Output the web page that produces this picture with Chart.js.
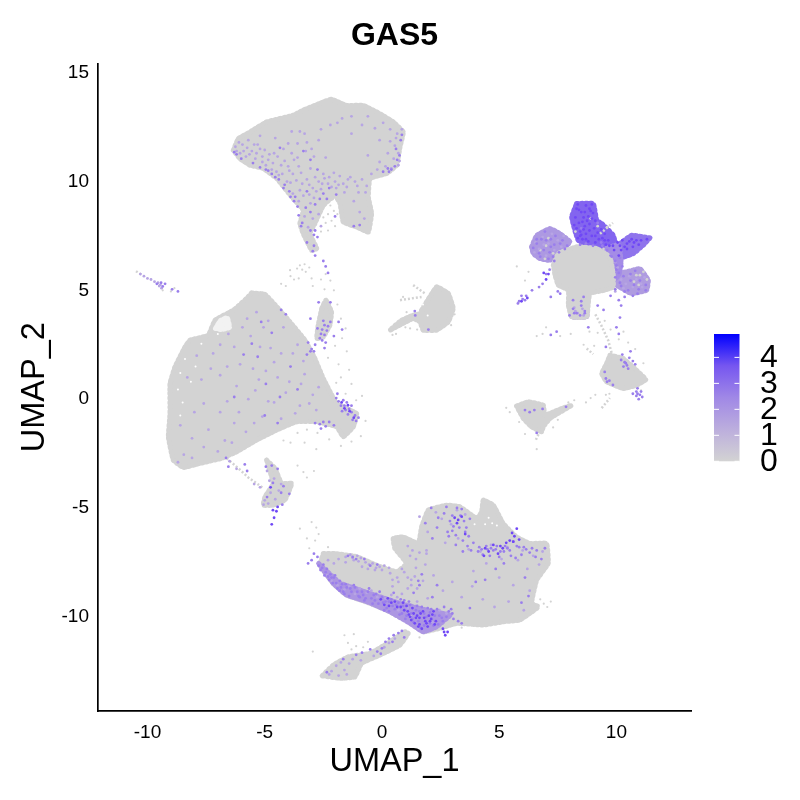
<!DOCTYPE html>
<html>
<head>
<meta charset="utf-8">
<title>GAS5</title>
<script src="https://cdn.jsdelivr.net/npm/chart.js@4/dist/chart.umd.min.js"></script>
<style>
  html, body { margin: 0; background: #fff; }
  canvas { display: block; }
</style>
</head>
<body>
<canvas id="umap" width="800" height="800"></canvas>
<script>
const xTicks = [-10, -5, 0, 5, 10];
const yTicks = [-10, -5, 0, 5, 10, 15];
const legendTicks = [0, 1, 2, 3, 4];
const legendMax = 4.9;

// cluster outlines in UMAP units
const topCluster = [[-6.34,11.44],[-6.13,11.97],[-5.63,12.28],[-4.92,12.74],[-3.78,13.05],[-3.36,13.28],[-2.5,13.66],[-2.15,13.78],[-1.51,13.5],[-0.8,13.5],[-0.09,13.12],[0.48,12.74],[0.91,12.28],[0.77,11.59],[0.63,10.75],[0.2,10.37],[-0.51,10.14],[-0.58,9.29],[-0.44,8.53],[-0.58,7.68],[-1.08,7.91],[-1.65,8.14],[-1.79,8.99],[-2.0,9.35],[-2.5,8.9],[-2.86,8.07],[-3.07,7.61],[-2.78,6.92],[-3.0,6.84],[-3.36,7.61],[-3.5,8.07],[-3.36,8.68],[-3.85,9.29],[-4.49,10.14],[-5.06,10.6],[-5.63,10.75],[-6.06,11.06]];
const leftCluster = [[-5.56,4.88],[-4.99,4.82],[-4.42,4.17],[-3.92,3.55],[-3.28,2.71],[-2.86,1.87],[-2.5,0.95],[-1.93,-0.2],[-1.08,-0.66],[-1.22,-1.27],[-1.65,-1.73],[-1.93,-1.27],[-2.78,-1.04],[-3.64,-1.04],[-4.49,-1.42],[-5.34,-1.88],[-6.2,-2.42],[-6.84,-2.72],[-7.76,-2.95],[-8.47,-3.14],[-8.9,-2.8],[-9.11,-1.73],[-9.04,-0.66],[-9.04,0.72],[-8.83,1.48],[-8.4,2.4],[-8.19,2.71],[-7.41,2.94],[-7.12,3.63],[-6.34,4.09],[-5.77,4.63]];
const bottomCluster = [[-2.5,-7.09],[-2.0,-7.09],[-1.08,-7.24],[-0.23,-7.63],[0.63,-7.93],[1.05,-7.55],[0.55,-6.86],[0.48,-6.4],[0.91,-6.33],[1.55,-6.63],[1.69,-5.87],[1.97,-5.1],[2.76,-4.87],[3.33,-4.95],[4.04,-5.48],[4.25,-5.18],[4.32,-4.64],[4.75,-4.87],[5.17,-5.71],[5.74,-6.33],[6.31,-6.63],[7.02,-6.63],[7.09,-7.55],[6.6,-8.31],[6.38,-9.38],[6.67,-9.54],[6.31,-9.84],[5.88,-10.15],[5.17,-10.23],[4.32,-10.38],[3.19,-10.3],[2.47,-10.53],[1.76,-10.69],[1.19,-10.23],[0.34,-9.77],[-0.51,-9.38],[-1.51,-9.0],[-2.08,-8.47],[-2.64,-7.63]];
const tailCluster = [[-2.55,-12.71],[-2.08,-12.22],[-1.44,-11.84],[-0.51,-11.68],[0.34,-11.15],[0.98,-10.69],[1.12,-10.76],[0.77,-11.3],[-0.09,-11.76],[-0.87,-12.14],[-1.15,-12.76],[-1.79,-12.83]];
const starCore = [[7.31,6.16],[7.52,6.69],[8.3,7.0],[9.16,6.92],[9.72,6.54],[9.86,5.77],[9.86,5.16],[9.51,5.01],[8.87,4.86],[8.8,4.4],[8.73,3.78],[8.09,3.78],[7.95,4.32],[7.95,5.01],[7.52,5.24],[7.38,5.7]];
const rightBlob = [[9.72,2.02],[10.29,1.87],[10.86,1.33],[11.25,0.9],[10.86,0.64],[10.29,0.49],[9.58,0.8],[9.37,1.18],[9.58,1.64]];
const lowBlob = [[5.74,-0.32],[6.24,-0.12],[6.88,-0.28],[6.95,-0.73],[7.66,-0.43],[8.09,-0.28],[7.16,-0.89],[6.88,-1.27],[6.81,-1.5],[6.38,-1.27],[6.03,-0.89]];
const midBlob = [[1.69,4.09],[2.33,5.16],[2.83,4.86],[3.04,4.17],[2.83,3.55],[2.33,3.17],[1.76,3.17],[1.62,3.55],[1.33,3.71],[0.34,3.17],[0.84,3.63],[1.33,3.86],[1.69,3.94]];
const stubBlob = [[-2.57,4.17],[-2.39,4.55],[-2.15,4.01],[-2.22,3.4],[-2.5,2.86],[-2.78,2.79],[-2.72,3.4]];
const lowerPatch = [[-4.92,-2.8],[-4.56,-3.18],[-4.28,-3.87],[-3.85,-3.87],[-4.14,-4.64],[-4.64,-4.87],[-5.06,-4.87],[-4.99,-4.49],[-4.64,-3.87]];

const grayStreaks = [
  [[-6.62,-2.72],[-6.1,-3.2],[-5.7,-3.6],[-5.34,-3.87],[-5.05,-4.1]],
  [[9.37,-0.41],[9.72,0.05]],
  [[8.73,2.33],[9.01,2.07]],
  [[6.75,-1.45],[6.55,-1.9]],
  [[1.33,5.24],[1.83,4.86]],
  [[0.77,4.55],[1.69,4.7]],
  [[9.1,3.9],[9.35,3.4],[9.65,2.7],[9.8,2.1]],
  [[-10.49,5.88],[-10.25,5.72]],
  [[9.3,7.6],[9.85,8.1]]
];

// lobes of the star shaped cluster, mostly expressing
const starLeftLobe = [[6.38,7.0],[6.6,7.53],[7.16,7.84],[7.59,7.61],[8.02,7.23],[7.52,6.69],[7.16,6.38],[6.74,6.46],[6.45,6.69]];
const starTopLobe = [[8.3,8.99],[9.01,8.99],[9.16,8.22],[9.4,8.05],[9.85,7.55],[10.0,7.0],[9.16,6.92],[8.37,7.3],[8.09,8.37]];
const starArm = [[11.43,7.41],[10.65,7.53],[10.15,7.15],[9.86,6.69],[10.08,6.46],[10.72,6.69],[11.14,7.07]];
const starRightLobe = [[9.94,5.77],[10.43,5.85],[11.0,6.0],[11.36,5.47],[11.29,5.01],[10.65,4.85],[10.01,5.24]];
const starBridge = [[9.6,6.95],[10.1,7.1],[10.2,6.3],[10.1,5.7],[9.8,5.4],[9.75,6.5]];
const starStem = [[8.09,4.4],[8.75,4.4],[8.73,3.78],[8.09,3.78]];
const wingBand = [[-2.7,-7.55],[-2.3,-7.95],[-1.79,-8.45],[-0.51,-8.93],[0.77,-9.38],[2.19,-9.77],[2.9,-9.92],[2.33,-10.46],[1.76,-10.69],[1.19,-10.3],[0.34,-9.77],[-0.65,-9.3],[-1.51,-9.0],[-2.08,-8.47]];
const leftGap = [[-7.1,3.25],[-6.9,3.6],[-6.6,3.75],[-6.5,3.3],[-6.85,3.2]];

const strayGray = [[-3.92,5.93],[-3.62,6.0],[-3.5,6.15],[-3.3,6.2],[-3.4,5.95],[-3.25,5.85],[-3.1,6.05],[-3.0,5.55],[-3.55,5.55],[-3.75,5.5],[-3.9,5.65],[-4.1,5.2],[-4.3,5.3],[-2.95,5.2],[-2.6,5.5],[-2.45,5.05],[-2.2,5.45],[-2.05,5.0],[-2.4,5.75],[-1.9,4.35],[-1.75,3.7],[-1.55,3.25],[-1.7,2.8],[-2.0,2.45],[-2.3,1.9],[-1.85,1.6],[-1.5,2.2],[-1.4,1.35],[-1.75,1.0],[-1.95,0.75],[-1.3,0.7],[-1.55,0.25],[-0.85,0.15],[-1.1,-0.05],[-0.7,-1.0],[-0.9,-1.7],[-1.3,-1.95],[-1.75,-2.15],[-2.25,-1.85],[-2.75,-1.55],[-3.2,-1.4],[-3.6,-1.55],[-3.3,-2.0],[-2.8,-2.3],[-3.9,-2.0],[-4.2,-1.9],[-2.9,-3.3],[-3.2,-3.6],[-3.6,-3.05],[-3.35,-3.35],[-3.0,-5.65],[-2.8,-5.9],[-2.7,-6.2],[-3.2,-6.4],[-3.5,-5.95],[-3.1,-6.85],[-2.85,-6.5],[-2.3,-6.8],[-2.95,-11.6],[-1.6,-10.85],[-1.45,-11.2],[-1.2,-10.8],[-1.3,-11.5],[-1.1,-11.35],[-0.6,-11.15],[-0.8,-11.4],[1.25,-9.9],[1.6,-10.95],[3.4,-10.5],[6.9,-9.4],[7.2,-9.3],[7.05,-9.55],[6.75,-9.2],[0.6,3.0],[0.45,2.95],[1.0,3.3],[1.2,3.25],[1.5,3.2],[1.05,4.0],[1.15,3.65],[0.9,4.7],[3.1,3.9],[2.95,3.4],[5.75,6.1],[6.25,5.85],[6.1,5.45],[7.0,3.3],[6.6,2.9],[6.85,3.0],[8.05,3.0],[7.6,2.9],[8.85,3.1],[9.2,3.05],[9.5,3.6],[9.75,3.2],[10.1,2.75],[10.5,2.6],[10.3,3.1],[9.1,0.2],[8.9,0.05],[8.7,-0.15],[8.2,-0.05],[7.95,-0.15],[9.7,0.25],[9.55,0.2],[11.05,0.4],[11.15,1.65],[10.8,2.3],[9.05,2.45],[8.6,2.5],[5.3,-0.4],[5.45,-0.6],[7.3,-1.3],[7.5,-0.95],[6.6,-2.3],[6.1,-1.6],[5.85,-1.05],[-9.35,5.0],[-9.0,4.95],[-8.85,5.1],[-2.2,8.9],[-2.05,8.65],[-2.3,8.5],[-2.15,8.2],[-1.9,8.5],[-2.4,8.1],[-2.5,8.35],[-2.6,7.7],[-2.3,7.75],[-2.0,7.95]];

const lowTop = [[-6.25,11.6],[-6.05,11.3],[-5.95,11.7],[-5.8,11.15],[-5.7,11.9],[-5.55,11.4],[-5.4,11.05],[-5.3,11.7],[-5.2,12.1],[-5.1,10.9],[-5.0,11.45],[-4.85,11.0],[-4.7,10.55],[-4.6,11.3],[-4.55,12.0],[-4.4,10.3],[-4.3,10.75],[-4.2,11.5],[-4.05,10.0],[-3.95,10.5],[-3.85,12.3],[-3.75,11.0],[-3.6,11.75],[-3.5,9.6],[-3.45,10.4],[-3.3,12.2],[-3.25,11.4],[-3.1,9.85],[-3.05,10.6],[-2.9,9.25],[-2.85,10.2],[-2.7,11.9],[-2.6,9.65],[-2.5,10.35],[-2.4,11.1],[-2.3,9.9],[-2.2,12.6],[-2.05,10.4],[-1.95,9.7],[-1.8,10.25],[-1.7,12.9],[-1.6,9.5],[-1.45,10.1],[-1.3,13.0],[-1.2,9.1],[-1.05,9.8],[-0.95,8.6],[-0.85,12.6],[-0.75,8.3],[-0.7,9.5],[-0.6,13.0],[-0.45,10.35],[-0.3,12.45],[-0.2,10.55],[-0.1,11.9],[0.05,12.7],[0.15,10.7],[0.25,11.3],[0.35,12.4],[0.4,10.6],[0.5,11.05],[0.55,11.65],[0.65,12.2],[0.7,11.3],[0.75,10.95],[-3.15,7.9],[-3.3,8.4],[-3.05,9.0],[-2.95,8.3],[-2.7,8.5],[-2.6,7.95],[-3.55,9.1],[-3.8,9.45],
  [-6.2,11.4],[-6.1,11.8],[-5.9,11.4],[-5.75,11.55],[-5.65,11.25],[-5.45,11.7],[-5.35,11.3],[-5.2,11.5],[-5.1,11.15],[-4.95,10.75],[-4.8,11.25],[-4.65,10.85],[-4.5,10.45],[-4.45,11.15],[-4.25,10.35],[-4.15,10.95],[-4.0,10.7],[-3.9,9.95],[-3.8,10.35],[-3.65,10.05],[-3.55,10.7],[-3.4,9.9],[-3.35,9.35],[-3.2,10.1],[-3.1,9.4],[-2.95,9.7],[-2.8,9.55],[-2.7,10.0],[-2.55,9.9],[-2.45,10.15],[-2.25,10.2],[-2.15,9.75],[-2.0,10.0],[-1.85,9.85],[-1.65,9.9],[-1.5,9.75],[-1.35,10.2],[-1.15,10.0],[-1.0,9.5],[-0.85,10.1],[-0.65,9.8],[-3.2,11.8],[-3.6,11.1],[-3.85,11.3],[-4.0,11.75],[-3.0,11.5],[-2.9,11.15],[-3.5,12.3],[-2.6,12.4],[-1.9,12.7],[-1.3,12.2],[-0.6,11.2],[-0.1,10.9],[0.35,11.85],[0.6,12.0],[0.85,12.4],[0.7,10.75]];
const midTop = [[-6.3,11.35],[-6.2,11.25],[-6.0,11.05],[-5.5,10.85],[-4.85,10.5],[-4.55,10.2],[-4.4,10.1],[-4.15,9.85],[-3.9,9.3],[-3.75,9.1],[-3.6,8.85],[-3.55,8.45],[-3.45,7.95],[-3.05,7.75],[-2.9,7.55],[-2.75,7.45],[-2.95,6.8],[-2.85,6.6],[-3.2,9.55],[-2.5,9.45],[-2.35,9.2],[-1.95,9.4],[-3.35,11.4],[-3.05,11.0],[-2.75,10.55],[-4.35,11.55],[0.65,11.0],[0.55,10.7],[0.3,10.45],[0.8,11.9],[0.85,12.15],[-2.0,8.4],[-1.2,7.95],[-0.95,8.0],
  [-5.2,10.65],[-4.95,10.55],[-4.7,10.35],[-4.2,9.7],[-3.95,9.55],[-3.7,9.3],[-3.4,8.1],[-3.25,8.8],[-3.05,8.6],[-2.85,8.95],[-2.65,9.2],[-2.25,9.7],[-2.85,7.75],[-3.2,7.2],[-2.9,7.05],[0.75,11.2],[0.4,10.55],[0.6,11.5],[0.25,10.6],[0.05,10.45]];

const lowLeft = [[-7.9,2.0],[-7.7,0.9],[-7.2,2.1],[-6.9,1.1],[-6.6,-0.1],[-6.3,2.4],[-6.05,1.6],[-5.75,3.7],[-5.6,2.9],[-5.4,0.4],[-5.05,3.3],[-4.95,1.3],[-4.75,2.35],[-4.6,-0.15],[-4.45,1.0],[-4.2,3.3],[-3.95,0.8],[-3.8,2.1],[-3.5,-0.3],[-3.3,1.15],[-2.95,0.2],[-2.7,0.55],[-8.0,-0.6],[-7.4,-1.4],[-6.9,-0.6],[-6.3,-1.1],[-5.8,-1.5],[-5.1,-0.8],[-4.3,-0.9],[-8.45,-2.55],[-8.7,-2.9],[-8.1,-2.7],[-7.0,-2.4],[-6.4,-2.0],
  [-8.3,1.0],[-8.6,-1.2],[-8.1,-1.8],[-7.6,-0.2],[-7.3,1.4],[-6.9,2.5],[-6.6,1.5],[-6.2,0.6],[-6.1,-0.6],[-5.7,0.0],[-5.5,1.4],[-5.2,2.4],[-5.25,0.9],[-4.85,-0.1],[-4.6,1.7],[-4.3,2.1],[-4.1,0.3],[-3.7,-0.65],[-3.45,0.7],[-3.1,-0.2],[-2.8,-0.5],[-6.7,-1.9],[-7.6,-2.2],[-5.45,-1.1],[-5.95,3.3],[-6.55,3.0],[-5.35,4.0],[-4.85,3.6],[-3.6,2.5],[-3.35,1.75]];
const midLeft = [[-5.9,2.05],[-5.55,2.55],[-5.3,1.95],[-5.15,3.55],[-4.95,0.7],[-4.7,3.05],[-4.35,0.1],[-3.9,1.5],[-3.6,0.45],[-6.3,0.1],[-5.0,-0.75],[-4.45,-1.1],[-2.85,-1.1],[-2.65,-1.15],[-2.5,-1.05],[-2.4,-1.25],[-2.25,-1.05],[-2.05,-1.2],[-2.6,-1.35],[-4.3,4.1],[-4.1,3.9],[-3.15,2.6],[-3.0,2.3]];

const midCorner = [[-1.95,0.05],[-1.85,-0.1],[-1.75,-0.3],[-1.65,-0.05],[-1.6,-0.3],[-1.5,-0.15],[-1.55,-0.5],[-1.4,-0.45],[-1.3,-0.3],[-1.3,-0.6],[-1.15,-0.75],[-1.1,-1.0],[-1.0,-0.85],[-1.25,-0.95],[-1.7,-0.55],[-1.9,0.25],[-1.45,-0.7]];
const highCorner = [[-1.72,-0.15],[-1.6,-0.42],[-1.45,-0.28],[-1.38,-0.55],[-1.2,-0.85]];

const midStub = [[-2.55,3.2],[-2.45,3.4],[-2.3,3.35],[-2.6,3.0],[-2.45,2.95],[-2.35,3.15],[-2.55,2.7],[-2.65,2.8],[-2.2,3.55],[-2.75,3.25],[-2.5,3.6],[-2.4,2.6],[-2.45,2.35],[-2.85,2.5],[-3.05,2.2],[-3.2,2.05],[-2.9,2.2],[-2.7,4.45],[-2.2,4.45],[-1.85,3.55],[-1.7,3.2],[-2.05,2.9],[-3.05,3.7],[-2.3,5.8],[-2.4,6.1],[-2.5,6.35]];

const lowStreak = [[-10.3,5.75],[-10.15,5.65],[-10.0,5.55],[-9.85,5.5],[-9.7,5.4],[-9.55,5.35],[-9.45,5.25],[-9.4,5.1],[-9.5,5.2]];
const midStreak = [[-9.35,5.18],[-9.25,5.3],[-8.95,5.05],[-9.6,5.3],[-9.42,5.35]];

const lowPatch = [[-6.5,-2.85],[-6.2,-3.2],[-5.45,-3.9],[-5.2,-4.05],[-4.9,-3.3],[-4.8,-3.75],[-4.75,-4.3],[-4.55,-4.6],[-5.0,-4.65],[-5.05,-4.85],[-4.85,-4.8],[-4.6,-3.65],[-4.4,-4.2],[-4.3,-3.9]];
const midPatch = [[-6.65,-2.7],[-6.55,-3.1],[-5.85,-3.0],[-5.75,-3.3],[-4.95,-3.1],[-4.7,-3.05],[-4.65,-3.85],[-4.45,-3.2],[-4.2,-4.0],[-4.25,-4.85],[-3.95,-4.35],[-4.9,-4.5],[-4.3,-4.3]];
const highPatch = [[-4.65,-5.1],[-4.5,-5.15],[-4.6,-5.45],[-4.7,-5.75],[-4.45,-4.95],[-4.75,-4.05]];

const lowWing = [[-2.3,-7.4],[-2.05,-7.55],[-1.85,-7.35],[-1.55,-7.5],[-1.25,-7.3],[-1.0,-7.45],[-0.85,-7.7],[-0.55,-7.6],[-0.3,-7.85],[0.0,-7.85],[0.35,-8.0],[0.65,-8.2],[0.95,-7.95],[1.25,-8.3],[1.45,-7.75],[1.1,-8.7],[0.85,-8.95],[0.45,-8.6],[-1.6,-8.75],[-1.4,-8.6],[-1.15,-8.95],[-0.95,-8.7],[-0.65,-8.9],[-0.45,-8.8],[-0.2,-9.1],[0.15,-9.15],[0.4,-9.0],[0.65,-9.1],[1.5,-9.3],[1.95,-9.15],[1.1,-9.6],[0.7,-9.7],[2.45,-9.7],[2.75,-9.85],[2.15,-10.25],[1.55,-10.55],[-2.35,-8.1],[-2.15,-8.35],[-1.9,-8.55],
  [-1.55,-7.25],[-1.35,-7.15],[-1.2,-7.4],[-1.05,-7.2],[-0.9,-7.3],[-0.7,-7.5],[-0.6,-7.8],[-0.4,-7.55],[-0.25,-7.75],[-0.1,-7.7],[0.1,-7.65],[0.3,-7.75],[0.45,-8.3],[0.7,-8.4],[0.85,-7.8],[1.1,-8.2],[1.25,-8.55],[1.4,-8.15],[1.5,-8.7],[1.75,-8.35],[1.85,-7.6],[1.9,-6.95],[1.6,-7.05],[1.2,-7.2]];
const midWing = [[-2.55,-7.75],[-2.4,-7.95],[-2.3,-8.15],[-2.2,-8.05],[-2.05,-8.2],[-1.95,-8.45],[-1.8,-8.35],[-2.9,-7.1],[-3.0,-7.4],[-2.75,-7.25],[-3.15,-7.55],[-1.45,-7.2],[-1.25,-7.25],[-1.1,-7.35],[-0.75,-7.35],[-0.5,-7.65],[-0.2,-7.6],[-1.75,-8.65],[-1.65,-8.85],[-1.5,-8.65],[-1.3,-8.85],[-1.15,-8.65],[-1.0,-9.05],[-0.85,-8.85],[-0.7,-9.15],[-0.55,-8.7],[-0.35,-9.0],[-0.3,-9.25],[-0.1,-8.85],[0.05,-9.35],[0.2,-9.6],[0.3,-9.3],[0.45,-9.5],[0.5,-8.9],[0.7,-9.35],[0.85,-9.85],[0.95,-9.25],[1.05,-9.95],[1.2,-9.45],[1.3,-10.1],[1.45,-9.7],[1.55,-10.2],[1.7,-9.55],[1.8,-10.4],[1.9,-10.0],[2.05,-9.8],[2.2,-10.4],[2.35,-9.65],[2.55,-10.05],[2.65,-9.55],[2.95,-9.65],[3.05,-10.1],[3.25,-10.2],[3.4,-10.3],[1.35,-8.9],[1.6,-8.55],[1.7,-8.05],[1.55,-8.35],
  [-2.7,-7.65],[-2.62,-7.85],[-2.5,-7.6],[-2.45,-8.1],[-2.35,-7.8],[-2.25,-8.3],[-2.15,-8.2],[-2.1,-8.45],[-2.0,-8.1],[-1.9,-8.7],[-1.8,-8.8],[-1.7,-8.5],[-1.6,-8.95],[-1.55,-8.5],[-1.4,-9.05],[-1.35,-8.7],[-1.2,-8.55],[-1.05,-8.85],[-0.95,-9.1],[-0.8,-9.0],[-0.75,-9.25],[-0.6,-8.85],[-0.45,-9.15],[-0.4,-9.4],[-0.25,-8.95],[-0.15,-9.4],[0.0,-9.1],[0.1,-9.7],[0.15,-9.3],[0.3,-9.75],[0.4,-9.2],[0.55,-9.65],[0.6,-9.45],[0.75,-9.9],[0.8,-9.2],[0.9,-9.5],[1.0,-10.1],[1.15,-9.3],[1.25,-9.85],[1.35,-10.25],[1.5,-9.5],[1.6,-9.75],[1.65,-10.5],[1.8,-9.85],[1.95,-9.6],[2.05,-10.3],[2.1,-9.65],[2.25,-9.95],[2.4,-10.35],[2.45,-9.95],[2.6,-10.2],[2.75,-10.0],[2.85,-9.75],[3.0,-9.85]];
const highWing = [[-0.05,-9.2],[0.1,-9.45],[0.25,-9.15],[0.55,-9.3],[0.8,-9.55],[0.95,-9.7],[1.1,-9.75],[1.2,-10.0],[1.3,-9.6],[1.4,-10.3],[1.5,-9.95],[1.6,-10.05],[1.7,-10.55],[1.75,-9.75],[1.85,-10.2],[1.95,-10.45],[2.0,-9.95],[2.1,-10.1],[2.2,-9.75],[2.3,-10.2],[1.6,-10.35],[2.65,-10.7],[2.7,-10.85],[2.8,-10.7],[2.6,-10.55],
  [0.3,-9.5],[0.65,-9.55],[1.05,-9.5],[1.25,-10.15],[1.45,-10.05],[1.55,-10.45],[1.65,-9.85],[1.8,-10.05],[1.9,-10.3],[2.05,-10.2],[2.15,-9.9],[2.25,-10.35],[1.35,-9.85],[1.15,-9.9],[0.9,-9.35],[0.4,-9.35]];

const lowBody = [[1.6,-5.4],[1.95,-6.1],[2.3,-5.2],[2.55,-5.5],[2.7,-6.6],[2.95,-5.75],[3.2,-5.1],[3.25,-6.4],[3.55,-5.3],[3.7,-6.9],[3.9,-7.9],[4.2,-7.0],[4.45,-7.55],[4.65,-6.7],[5.0,-8.2],[5.1,-7.35],[5.35,-6.8],[5.6,-8.55],[5.8,-7.4],[6.0,-6.95],[6.2,-7.8],[6.3,-8.8],[6.45,-7.2],[6.7,-7.6],[6.85,-7.0],[2.2,-8.1],[2.6,-8.8],[3.0,-8.4],[3.4,-9.1],[3.85,-8.6],[4.3,-9.2],[4.8,-9.55],[5.4,-9.3],[6.05,-9.7],[1.9,-7.1],[1.3,-6.95],[1.1,-6.75],[1.45,-7.35]];
const midBody = [[2.1,-5.0],[2.4,-5.45],[2.75,-4.95],[3.05,-5.85],[3.2,-5.0],[3.35,-5.35],[3.5,-5.6],[3.55,-6.1],[3.75,-5.5],[3.15,-6.25],[3.45,-6.5],[3.65,-6.75],[3.8,-6.95],[2.8,-6.1],[2.85,-6.3],[3.0,-6.05],[4.15,-6.8],[4.3,-7.15],[4.45,-6.75],[4.6,-7.2],[4.75,-6.95],[4.9,-6.75],[5.05,-7.0],[5.25,-6.75],[5.45,-6.95],[5.6,-6.55],[5.85,-6.8],[5.95,-7.15],[6.3,-7.05],[6.6,-6.95],[5.7,-7.3],[5.2,-7.55],[4.85,-7.8],[4.0,-8.4],[3.75,-9.6],[2.35,-8.55],[2.15,-9.1],[6.1,-8.2],[6.25,-9.05],[5.95,-9.35],[4.4,-8.3],
  [3.9,-6.6],[4.1,-7.0],[4.25,-6.9],[4.5,-6.9],[4.65,-6.85],[4.85,-6.9],[5.0,-7.25],[5.2,-7.0],[5.35,-6.85],[5.5,-7.2],[5.75,-6.75],[6.05,-6.8],[6.15,-6.9],[6.4,-6.85],[6.55,-7.25],[6.8,-7.35],[6.95,-6.85],[3.0,-5.35],[2.9,-5.6],[3.3,-5.9],[3.4,-5.05],[3.6,-5.9],[3.7,-6.3],[3.15,-6.7],[3.45,-7.0],[2.65,-5.25],[2.35,-5.9],[2.15,-6.4],[1.85,-5.7]];
const highBody = [[3.1,-5.45],[3.25,-5.55],[3.4,-5.4],[3.2,-5.7],[3.55,-6.2],[4.4,-6.85],[4.55,-7.0],[4.75,-6.7],[5.05,-6.75],[5.15,-6.85],[5.3,-6.6],[5.55,-6.15],[5.65,-6.3],[5.75,-5.95],[5.6,-6.55],[5.85,-6.45],[5.45,-6.5],[4.95,-7.1],[4.35,-7.2]];

const lowTail = [[-2.15,-12.5],[-1.95,-12.25],[-1.75,-12.1],[-1.6,-12.45],[-1.4,-12.15],[-1.25,-11.95],[-1.5,-12.65],[-1.85,-12.7],[-2.25,-12.65],[-0.9,-12.0],[-0.35,-11.8],[0.1,-11.4],[0.3,-11.2],[0.55,-11.0]];
const midTail = [[-2.35,-12.55],[-1.65,-11.95],[-1.1,-11.75],[-0.85,-11.65],[-0.5,-11.5],[-0.2,-11.6],[0.0,-11.45],[0.15,-11.15],[0.3,-11.0],[0.5,-10.85],[0.7,-10.75],[0.85,-10.65],[0.95,-10.95],[0.45,-11.15],[-0.05,-11.7]];

const lowStar = [[6.55,7.2],[6.7,6.9],[6.85,7.45],[7.0,6.6],[7.1,7.15],[7.25,7.6],[7.35,6.85],[7.5,7.3],[7.65,7.0],[7.75,7.5],[6.5,6.75],[6.9,7.1],[10.2,5.5],[10.4,5.3],[10.55,5.65],[10.7,5.15],[10.85,5.5],[11.05,5.3],[11.2,5.6],[11.1,5.15],[10.3,5.1],[8.2,4.2],[8.35,3.95],[8.55,4.15],[8.6,3.85],[8.25,4.05],[9.95,4.95],[10.05,6.05],[9.95,6.3]];
const midStar = [[6.45,6.95],[6.6,7.35],[6.75,6.55],[6.95,7.7],[7.1,6.45],[7.2,7.0],[7.4,7.5],[7.55,6.75],[7.7,7.3],[7.9,7.05],[7.35,6.35],[7.15,5.95],[7.0,5.75],[6.85,5.3],[6.7,5.15],[6.4,5.0],[6.15,4.75],[6.0,4.6],[5.85,4.5],[5.95,4.75],[6.1,4.55],[5.8,4.4],[8.45,7.1],[8.7,7.15],[9.0,7.05],[9.4,7.05],[9.75,6.6],[9.95,6.35],[10.0,5.95],[10.1,5.8],[10.3,5.65],[10.6,5.75],[10.8,5.9],[10.2,5.2],[10.5,5.0],[10.95,5.05],[11.25,5.25],[10.9,4.85],[9.95,5.05],[9.75,4.75],[10.1,4.55],[10.2,4.3],[10.15,3.75],[10.0,3.3],[10.1,3.0],[9.2,4.3],[9.45,4.1],[8.3,3.95],[8.5,4.3],[8.65,3.95],[8.0,3.85],[8.15,4.55],[8.6,4.7],[7.6,4.85],[7.2,4.7],[7.5,4.95],[8.8,3.3],[7.2,2.95],[7.45,3.1],[9.55,2.4],[10.6,2.2],[10.25,2.05],[10.4,1.65],[10.55,1.9],[10.7,1.75],[10.3,1.5],[10.5,1.4],[10.8,1.6],[9.5,1.25],[9.55,0.95],[9.7,0.85],[9.85,0.65],[10.85,0.35],[11.0,0.2],[10.9,0.5],[11.1,0.1],[10.7,0.25],[10.95,0.0],[6.85,-0.45],[6.5,-0.5],[6.3,-0.6],[6.1,-0.5],[6.6,-1.55],[7.85,-0.35],[1.98,3.2],[1.4,4.05],[1.42,3.85],[-8.7,4.95],
  [8.5,7.85],[9.2,8.1],[9.35,7.2],[9.6,6.85],[9.8,6.55],[10.0,6.15],[10.15,6.5],[9.95,5.6],[10.25,6.1],[10.15,5.35],[10.35,4.95],[10.6,5.45],[10.75,5.25],[11.0,5.45],[11.25,5.0],[10.7,4.75],[10.35,4.7],[6.6,7.15],[6.8,7.35],[7.0,7.3],[7.2,7.35],[7.35,7.1],[7.6,7.15],[7.8,6.9],[6.7,6.7],[6.9,6.85],[7.3,6.55],[7.15,6.75],[8.2,3.95],[8.45,3.85],[8.65,4.05],[8.15,4.15],[8.5,4.5],[10.35,1.7],[10.45,1.55],[10.2,1.8],[9.6,0.8],[10.9,0.25],[10.85,0.15],[11.05,0.35]];
const highStar = [[8.35,8.95],[8.5,8.6],[8.7,8.9],[8.85,8.75],[8.95,8.95],[8.3,8.75],[8.6,8.35],[8.8,8.4],[9.0,8.55],[9.1,8.2],[8.25,8.35],[8.4,8.1],[8.65,7.95],[8.85,8.05],[9.05,7.85],[8.2,8.0],[8.45,7.7],[8.7,7.6],[8.95,7.5],[9.2,7.65],[9.4,7.4],[9.55,7.1],[8.55,7.35],[8.8,7.25],[9.1,7.2],[9.35,7.8],[9.5,7.6],[8.35,7.4],[8.5,7.55],[9.65,7.3],[9.85,7.05],[10.05,7.2],[10.25,7.3],[10.45,7.15],[10.65,7.35],[10.85,7.3],[11.05,7.3],[11.3,7.35],[10.2,6.85],[10.45,6.9],[10.7,7.0],[10.95,7.1],[10.1,6.6],[9.9,6.85],[6.2,4.65],[5.95,4.5],[7.0,5.5],[6.9,5.8],[7.1,5.75],
  [8.4,8.7],[8.65,8.6],[8.9,8.65],[8.55,8.15],[8.75,8.2],[8.95,8.3],[8.3,7.85],[8.6,7.8],[8.85,7.75],[9.1,7.5],[9.25,7.35],[8.45,7.5],[8.7,7.35],[9.5,7.3],[9.7,7.05],[10.15,7.05],[10.35,7.0],[10.55,7.25],[10.75,7.2]];

const grayOnStar = [[7.0,7.05],[6.75,6.85],[7.3,6.7],[7.1,7.4],[6.95,6.45],[10.75,5.4],[11.0,5.7],[11.15,5.85],[10.85,5.7],[11.3,5.5],[10.95,5.25],[8.3,4.1],[8.4,3.85],[8.6,4.35],[8.15,4.3],[8.9,8.3],[9.2,7.95],[9.45,6.9],[9.6,7.9],[8.25,7.7]];
const whiteSpecks = [[-7.0,3.0],[-7.7,2.55],[-8.4,1.85],[-8.6,1.2],[-8.7,0.45],[-8.5,-0.15],[-8.6,-0.75],[-8.15,0.8],[-7.95,1.5],[4.55,-5.45],[4.7,-5.7],[4.4,-5.75],[4.9,-5.8],[3.95,-5.75],[1.95,3.85],[1.75,4.35]];

const GRAY = '#d3d3d3';
const LOW = '#b7a5e4';
const MID = '#9a7eec';
const HIGH = '#7048f6';

function pts(pairs) {
  return pairs.map((p) => ({ x: p[0], y: p[1] }));
}

// dashed wide border gives the cluster a speckled edge like the overplotted points
function shape(pairs, color) {
  const data = pts(pairs.concat([pairs[0]]));
  return { data, showLine: true, fill: 'shape', tension: 0.1, borderColor: color, backgroundColor: color, borderWidth: 5, borderDash: [1.5, 3], borderCapStyle: 'round', pointRadius: 0 };
}

function streak(pairs, color) {
  return { data: pts(pairs), showLine: true, fill: false, borderColor: color, borderWidth: 2.5, borderDash: [2, 2], pointRadius: 0 };
}

function dots(pairs, color, radius) {
  return { data: pts(pairs), showLine: false, backgroundColor: color, borderWidth: 0, pointRadius: radius || 1.4 };
}

const layers = [
  shape(starLeftLobe, '#ad99e2'),
  shape(starTopLobe, '#8365ef'),
  shape(starArm, '#8f74ec'),
  shape(starRightLobe, '#af9ce0'),
  shape(starBridge, '#a48ce6'),
  shape(starStem, '#b3a2df'),
  shape(topCluster, GRAY),
  shape(leftCluster, GRAY),
  shape(bottomCluster, GRAY),
  shape(tailCluster, GRAY),
  shape(starCore, GRAY),
  shape(rightBlob, GRAY),
  shape(lowBlob, GRAY),
  shape(midBlob, GRAY),
  shape(stubBlob, GRAY),
  shape(lowerPatch, GRAY),
  shape(leftGap, '#f2f2f2'),
  shape(wingBand, '#ac96e2')
];
grayStreaks.forEach((s) => layers.push(streak(s, GRAY)));
layers.push(dots(strayGray, GRAY, 1.1));
layers.push(dots(whiteSpecks, '#ffffff', 1));
layers.push(dots(grayOnStar, GRAY, 1.4));
layers.push(dots(lowTop.concat(lowLeft, lowStreak, lowPatch, lowWing, lowBody, lowTail, lowStar), LOW));
layers.push(dots(midTop.concat(midLeft, midCorner, midStub, midStreak, midPatch, midWing, midBody, midTail, midStar), MID));
layers.push(dots(highCorner.concat(highPatch, highWing, highBody, highStar), HIGH));
layers.forEach((d, i) => { d.order = layers.length - i; });

// colour bar on the right, same geometry as the ggplot guide
const colorBar = {
  id: 'colorBar',
  afterDraw(chart) {
    const ctx = chart.ctx;
    const left = 714, right = 739.5, top = 334, bottom = 461.3;
    const grad = ctx.createLinearGradient(0, bottom, 0, top);
    grad.addColorStop(0, '#d3d3d3');
    grad.addColorStop(0.25, '#bcaedd');
    grad.addColorStop(0.5, '#a088e6');
    grad.addColorStop(0.75, '#7656f0');
    grad.addColorStop(1, '#0000ff');
    ctx.save();
    ctx.fillStyle = grad;
    ctx.fillRect(left, top, right - left, bottom - top);
    ctx.strokeStyle = '#ffffff';
    ctx.lineWidth = 1;
    ctx.fillStyle = '#000000';
    ctx.font = '32px "Liberation Sans", Arial, sans-serif';
    ctx.textAlign = 'left';
    ctx.textBaseline = 'middle';
    legendTicks.forEach((v) => {
      const y = bottom - (bottom - top) * v / legendMax;
      ctx.beginPath();
      ctx.moveTo(left, y); ctx.lineTo(left + 5, y);
      ctx.moveTo(right - 5, y); ctx.lineTo(right, y);
      ctx.stroke();
      ctx.fillText(String(v), 760, y + 0.5);
    });
    ctx.restore();
  }
};

new Chart(document.getElementById('umap'), {
  type: 'scatter',
  data: { datasets: layers },
  plugins: [colorBar],
  options: {
    responsive: false,
    animation: false,
    layout: { padding: { left: 0, right: 109, top: 0, bottom: 0 } },
    plugins: {
      legend: { display: false },
      tooltip: { enabled: false },
      title: {
        display: true,
        text: 'GAS5',
        color: '#000',
        fullSize: false,
        font: { family: '"Liberation Sans", Arial, sans-serif', size: 32, weight: 'bold' },
        padding: { top: 17, bottom: 8 }
      }
    },
    scales: {
      x: {
        type: 'linear',
        min: -12.11,
        max: 13.18,
        afterBuildTicks: (s) => { s.ticks = xTicks.map((v) => ({ value: v })); },
        afterFit: (s) => { s.height = 89; },
        grid: { display: false, drawTicks: false },
        border: { color: '#000', width: 1.7 },
        ticks: { color: '#000', padding: 10, maxRotation: 0, font: { family: '"Liberation Sans", Arial, sans-serif', size: 19 } },
        title: { display: true, text: 'UMAP_1', color: '#000', padding: { top: 0, bottom: 18 }, font: { family: '"Liberation Sans", Arial, sans-serif', size: 32.5 } }
      },
      y: {
        type: 'linear',
        min: -14.33,
        max: 15.43,
        afterBuildTicks: (s) => { s.ticks = yTicks.map((v) => ({ value: v })); },
        afterFit: (s) => { s.width = 98; },
        grid: { display: false, drawTicks: false },
        border: { color: '#000', width: 1.7 },
        ticks: { color: '#000', padding: 9, font: { family: '"Liberation Sans", Arial, sans-serif', size: 19 } },
        title: { display: true, text: 'UMAP_2', color: '#000', padding: { top: 16, bottom: 0 }, font: { family: '"Liberation Sans", Arial, sans-serif', size: 32.5 } }
      }
    }
  }
});
</script>
</body>
</html>
